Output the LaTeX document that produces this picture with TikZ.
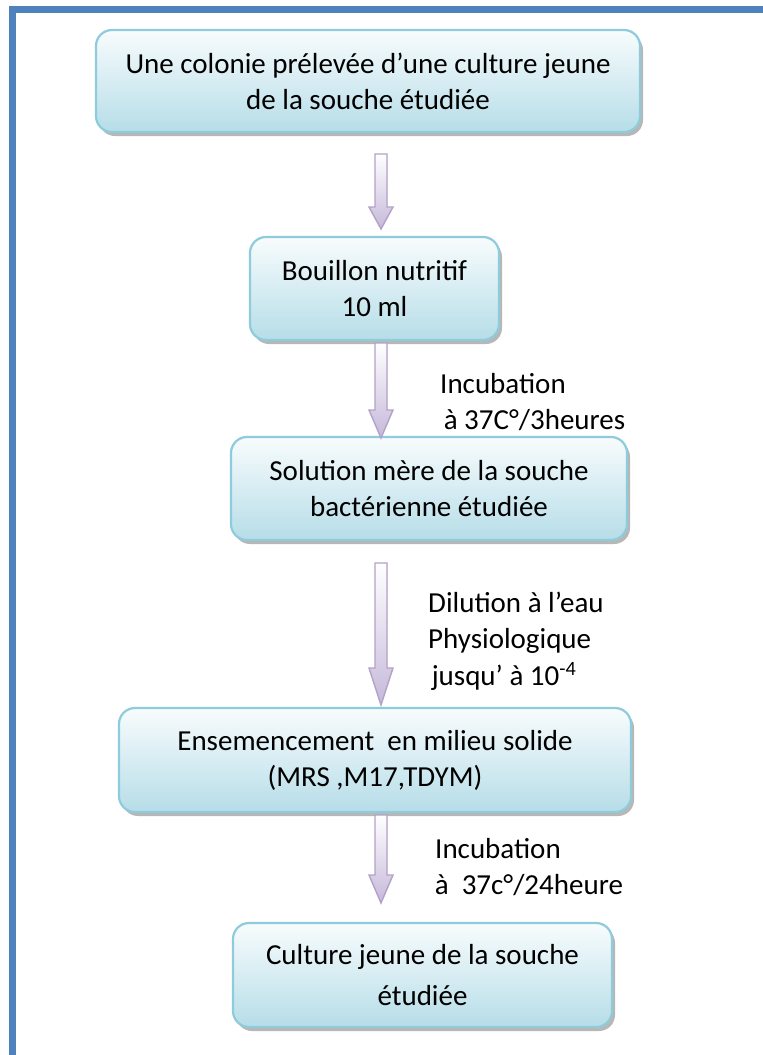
\documentclass[tikz,border=0pt]{standalone}
\usepackage{fontspec}
\setmainfont{Carlito}
\usetikzlibrary{shadows,calc}
\definecolor{frameblue}{HTML}{4F81BD}
\definecolor{boxline}{HTML}{8FCCDB}
\definecolor{boxtop}{HTML}{F8FCFD}
\definecolor{boxbot}{HTML}{B6DDE8}
\definecolor{arrline}{HTML}{B3A2C7}
\definecolor{arrfill}{HTML}{C6B8DA}
\newcommand\boxfont{\fontsize{29}{36}\selectfont}
\tikzset{
  stepbox/.style={draw=boxline, line width=2.2pt, rounded corners=16pt,
    top color=boxtop, bottom color=boxbot,
    drop shadow={shadow xshift=3pt, shadow yshift=-4pt, fill=black!40, opacity=0.7},
    align=center, inner sep=0pt, font=\boxfont},
  lbl/.style={anchor=base west, inner sep=0pt, font=\boxfont},
  blockarr/.style={draw=arrline, line width=1.4pt, top color=white, bottom color=arrfill, line join=miter},
  arrshadow/.style={fill=black!30},
}
\newcommand\barrow[1]{%
  \fill[arrshadow, xshift=2.5pt, yshift=-2pt] ($(#1t)+(-6,0)$) -- ($(#1t)+(6,0)$) -- ($(#1h)+(6,0)$) -- ($(#1h)+(12,0)$) -- (#1e) -- ($(#1h)+(-12,0)$) -- ($(#1h)+(-6,0)$) -- cycle;
  \draw[blockarr] ($(#1t)+(-6,0)$) -- ($(#1t)+(6,0)$) -- ($(#1h)+(6,0)$) -- ($(#1h)+(12,0)$) -- (#1e) -- ($(#1h)+(-12,0)$) -- ($(#1h)+(-6,0)$) -- cycle;}
\begin{document}
\begin{tikzpicture}[x=1pt,y=-1pt]
\useasboundingbox (0,0) rectangle (763,1055);
\fill[white] (0,0) rectangle (763,1055);
\draw[frameblue, line width=6.5pt, line join=miter] (12.5,1080) -- (12.5,9.5) -- (790,9.5);

\node[stepbox, minimum width=544pt, minimum height=102pt] (b1) at (368,81)
  {Une colonie prélevée d’une culture jeune\\de la souche étudiée};
\node[stepbox, minimum width=249pt, minimum height=103pt] (b2) at (374.5,288.5)
  {Bouillon nutritif\\10 ml};
\node[stepbox, minimum width=396pt, minimum height=103pt] (b3) at (429,488.5)
  {Solution mère de la souche\\bactérienne étudiée};
\node[stepbox, minimum width=512pt, minimum height=104pt] (b4) at (375,760)
  {Ensemencement\ \ en milieu solide\\(MRS ,M17,TDYM)};
\node[stepbox, minimum width=379pt, minimum height=104pt] (b5) at (422.5,975)
  {Culture jeune de la souche\\[5pt]étudiée};

\coordinate (a1t) at (381,154); \coordinate (a1h) at (381,207); \coordinate (a1e) at (381,229);
\coordinate (a2t) at (381,343); \coordinate (a2h) at (381,410); \coordinate (a2e) at (381,438);
\coordinate (a3t) at (381,563); \coordinate (a3h) at (381,668); \coordinate (a3e) at (381,705);
\coordinate (a4t) at (381,815); \coordinate (a4h) at (381,875); \coordinate (a4e) at (381,903);
\barrow{a1}
\barrow{a2}
\barrow{a3}
\barrow{a4}

\node[lbl] (l1a) at (440,393) {Incubation};
\node[lbl] (l1b) at (437,429) {\ à 37C°/3heures};
\node[lbl] (l2a) at (428,612) {Dilution à l’eau};
\node[lbl] (l2b) at (428,648) {Physiologique};
\node[lbl] (l2c) at (425,685) {\ jusqu’ à 10\textsuperscript{-4}};
\node[lbl] (l3a) at (435,858) {Incubation};
\node[lbl] (l3b) at (428,894) {\ à\ \ 37c°/24heure};
\end{tikzpicture}
\end{document}
